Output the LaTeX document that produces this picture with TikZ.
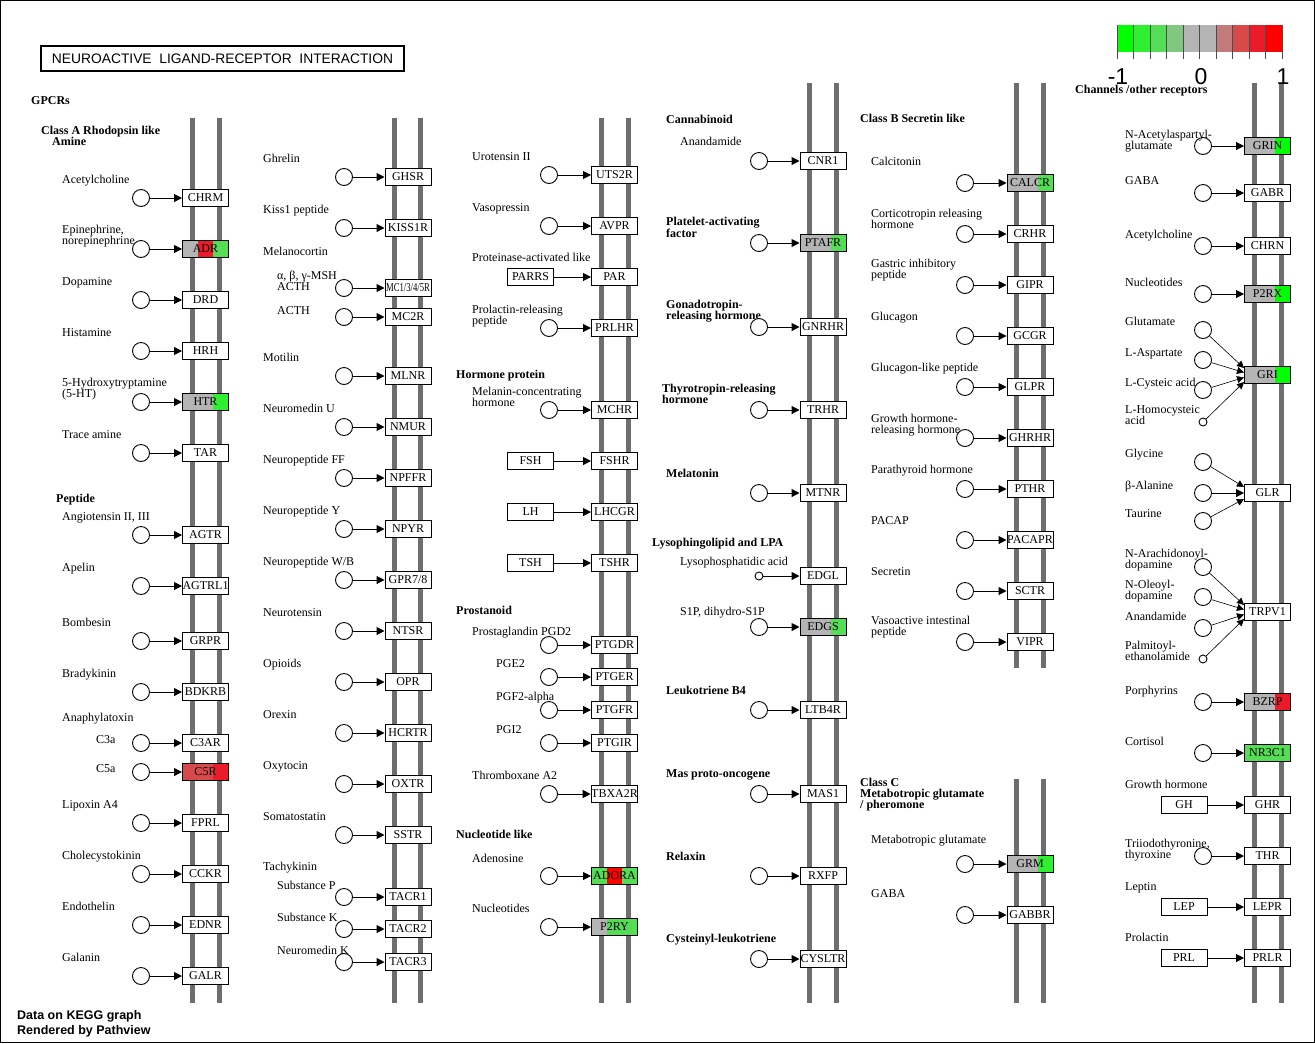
\documentclass[tikz,border=0pt]{standalone}
\usepackage{fontspec}
\setmainfont{Liberation Serif}
\newfontfamily\sansf{Liberation Sans}
\usepackage{graphicx}
\usetikzlibrary{arrows.meta,calc}
\definecolor{gry}{HTML}{B4B4B4}
\definecolor{gA}{HTML}{00FF00}
\definecolor{gB}{HTML}{30EE30}
\definecolor{gC}{HTML}{55DD55}
\definecolor{gD}{HTML}{80C880}
\definecolor{rD}{HTML}{C27A7A}
\definecolor{rC}{HTML}{D84A4A}
\definecolor{rB}{HTML}{EA1C2A}
\definecolor{rA}{HTML}{FF0000}
\definecolor{memc}{HTML}{6E6E6E}
\newcommand\fs{\fontsize{12bp}{11bp}\selectfont}
\newcommand\twol[2]{\vtop{\hbox{#1}\hbox{#2}}}
\newcommand\threel[3]{\vtop{\hbox{#1}\hbox{#2}\hbox{#3}}}
\tikzset{
 memline/.style={line width=5bp, draw=memc},
 rfill/.style={fill=white},
 rbox/.style={draw, rfill, line width=1bp, minimum width=46bp, minimum height=17bp, inner sep=0pt, font=\fs},
 lc/.style={circle, draw, fill=white, line width=0.9bp, minimum size=17bp, inner sep=0pt},
 sc/.style={circle, draw, fill=white, line width=0.9bp, minimum size=8bp, inner sep=0pt},
 arr/.style={-{Triangle[length=8bp,width=8bp]}, line width=1bp},
 tarr/.style={-{Triangle[length=7bp,width=7bp]}, line width=0.6bp},
 lab/.style={anchor=base west, inner sep=0pt, font=\fs},
 head/.style={anchor=base west, inner sep=0pt, font=\fs\bfseries},
 colored/.style={rfill/.style={}},
}
\newcommand\tfill[5]{%
 \fill[#3] ({#1-23},{#2-8.5}) rectangle ({#1-23+46/3},{#2+8.5});
 \fill[#4] ({#1-23+46/3},{#2-8.5}) rectangle ({#1+23-46/3},{#2+8.5});
 \fill[#5] ({#1+23-46/3},{#2-8.5}) rectangle ({#1+23},{#2+8.5});}
\newcommand\ent[8]{%
 \node[lc] (c#1) at (#2,#4) {};
 \node[rbox] (r#1) at (#3,#4) {#5};
 \draw[arr] (c#1) -- (r#1);
 \node[lab] (t#1) at (#6,#7) {#8};}
\newcommand\ents[8]{%
 \node[sc] (c#1) at (#2,#4) {};
 \node[rbox] (r#1) at (#3,#4) {#5};
 \draw[arr] (c#1) -- (r#1);
 \node[lab] (t#1) at (#6,#7) {#8};}
\newcommand\entc[5]{%
 \node[lc] (c#1) at (#2,#4) {};
 \node[rbox] (r#1) at (#3,#4) {#5};
 \draw[arr] (c#1) -- (r#1);}
\newcommand\entb[9]{%
 \node[rbox] (l#1) at (#2,#4) {#5};
 \node[rbox] (r#1) at (#3,#4) {#6};
 \draw[arr] (l#1) -- (r#1);
 \node[lab] (t#1) at (#7,#8) {#9};}
\newcommand\entbc[6]{%
 \node[rbox] (l#1) at (#2,#4) {#5};
 \node[rbox] (r#1) at (#3,#4) {#6};
 \draw[arr] (l#1) -- (r#1);}
\begin{document}
\begin{tikzpicture}[x=1bp,y=-1bp]
\useasboundingbox (0,0) rectangle (1315,1043);
\draw[line width=1bp] (0.5,0.5) rectangle (1314.5,1042.5);
% membranes
\foreach \x in {192,219,394.5,420.5,601.5,628.5} \draw[memline] (\x,118) -- (\x,1003);
\foreach \x in {809.5,836.5,1254,1281} \draw[memline] (\x,83) -- (\x,1003);
\foreach \x in {1016.5,1043.5} {\draw[memline] (\x,83) -- (\x,668); \draw[memline] (\x,779) -- (\x,1003);}
% title
\node[draw, line width=2.5bp, minimum width=363bp, minimum height=25bp, inner sep=0pt] (title) at (222.5,58.5)
 {\resizebox{341bp}{!}{\sansf\fontsize{12.5bp}{12bp}\selectfont NEUROACTIVE\ \ LIGAND-RECEPTOR\ \ INTERACTION}};
% legend
\foreach \c [count=\i from 0] in {gA,gB,gC,gD,gry,gry,rD,rC,rB,rA}
 \fill[\c] ({1117+16.5*\i},25) rectangle ({1133.5+16.5*\i},52);
\foreach \i in {0,...,10} \draw[line width=0.8bp, black!70] ({1117+16.5*\i},25) -- ({1117+16.5*\i},59);
\node[anchor=base, inner sep=0pt, font=\sansf\fontsize{23bp}{23bp}\selectfont] (lgm) at (1118,84) {-1};
\node[anchor=base, inner sep=0pt, font=\sansf\fontsize{23bp}{23bp}\selectfont] (lgz) at (1201,84) {0};
\node[anchor=base, inner sep=0pt, font=\sansf\fontsize{23bp}{23bp}\selectfont] (lgp) at (1283,84) {1};
% headers
\node[head] (hgpcr) at (31,104) {GPCRs};
\node[head] (hcla) at (41,134) {Class A Rhodopsin like};
\node[head] (hamine) at (52,145) {Amine};
% column 1
\ent{chrm}{141}{205.5}{198}{CHRM}{62}{183}{Acetylcholine}
\begin{scope}[colored]
\tfill{205.5}{249}{gry}{rB}{gC}
\ent{adr}{141}{205.5}{249}{ADR}{62}{233}{\twol{Epinephrine,}{norepinephrine}}
\end{scope}
\ent{drd}{141}{205.5}{300}{DRD}{62}{285}{Dopamine}
\ent{hrh}{141}{205.5}{351}{HRH}{62}{336}{Histamine}
\begin{scope}[colored]
\tfill{205.5}{402}{gry}{gry}{gB}
\ent{htr}{141}{205.5}{402}{HTR}{62}{386}{\twol{5-Hydroxytryptamine}{(5-HT)}}
\end{scope}
\ent{tar}{141}{205.5}{453}{TAR}{62}{438}{Trace amine}
\node[head] (hpep) at (56,502) {Peptide};
\ent{agtr}{141}{205.5}{535}{AGTR}{62}{520}{Angiotensin II, III}
\ent{agtrl}{141}{205.5}{586}{AGTRL1}{62}{571}{Apelin}
\ent{grpr}{141}{205.5}{641}{GRPR}{62}{626}{Bombesin}
\ent{bdkrb}{141}{205.5}{692}{BDKRB}{62}{677}{Bradykinin}
\node[lab] (tanaph) at (62,721) {Anaphylatoxin};
\ent{ctar}{141}{205.5}{743}{C3AR}{96}{743}{C3a}
\begin{scope}[colored]
\tfill{205.5}{772}{rC}{rC}{rB}
\ent{cfr}{141}{205.5}{772}{C5R}{96}{772}{C5a}
\end{scope}
\ent{fprl}{141}{205.5}{823}{FPRL}{62}{808}{Lipoxin A4}
\ent{cckr}{141}{205.5}{874}{CCKR}{62}{859}{Cholecystokinin}
\ent{ednr}{141}{205.5}{925}{EDNR}{62}{910}{Endothelin}
\ent{galr}{141}{205.5}{976}{GALR}{62}{961}{Galanin}
% column 2
\ent{ghsr}{344}{408}{177}{GHSR}{263}{162}{Ghrelin}
\ent{kiss}{344}{408}{228}{KISS1R}{263}{213}{Kiss1 peptide}
\node[lab] (tmelano) at (263,255) {Melanocortin};
\ent{mcr}{344}{408}{288}{\scalebox{0.72}[1]{MC1/3/4/5R}}{277}{279}{\twol{α, β, γ-MSH}{ACTH}}
\ent{mctr}{344}{408}{317}{MC2R}{277}{314}{ACTH}
\ent{mlnr}{344}{408}{376}{MLNR}{263}{361}{Motilin}
\ent{nmur}{344}{408}{427}{NMUR}{263}{412}{Neuromedin U}
\ent{npffr}{344}{408}{478}{NPFFR}{263}{463}{Neuropeptide FF}
\ent{npyr}{344}{408}{529}{NPYR}{263}{514}{Neuropeptide Y}
\ent{gpr}{344}{408}{580}{GPR7/8}{263}{565}{Neuropeptide W/B}
\ent{ntsr}{344}{408}{631}{NTSR}{263}{616}{Neurotensin}
\ent{opr}{344}{408}{682}{OPR}{263}{667}{Opioids}
\ent{hcrtr}{344}{408}{733}{HCRTR}{263}{718}{Orexin}
\ent{oxtr}{344}{408}{784}{OXTR}{263}{769}{Oxytocin}
\ent{sstr}{344}{408}{835}{SSTR}{263}{820}{Somatostatin}
\node[lab] (ttachy) at (263,870) {Tachykinin};
\ent{tacra}{344}{408}{897}{TACR1}{277}{889}{Substance P}
\ent{tacrb}{344}{408}{929}{TACR2}{277}{921}{Substance K}
\ent{tacrc}{344}{408}{962}{TACR3}{277}{954}{Neuromedin K}
% column 3
\ent{uts}{549}{614.5}{175}{UTS2R}{472}{160}{Urotensin II}
\ent{avpr}{549}{614.5}{226}{AVPR}{472}{211}{Vasopressin}
\entb{par}{530.5}{614.5}{277}{PARRS}{PAR}{472}{261}{Proteinase-activated like}
\ent{prlhr}{549}{614.5}{328}{PRLHR}{472}{313}{\twol{Prolactin-releasing}{peptide}}
\node[head] (hhorm) at (456,378) {Hormone protein};
\ent{mchr}{549}{614.5}{410}{MCHR}{472}{395}{\twol{Melanin-concentrating}{hormone}}
\entbc{fsh}{530.5}{614.5}{461}{FSH}{FSHR}
\entbc{lh}{530.5}{614.5}{512}{LH}{LHCGR}
\entbc{tsh}{530.5}{614.5}{563}{TSH}{TSHR}
\node[head] (hpros) at (456,614) {Prostanoid};
\ent{ptgdr}{549}{614.5}{645}{PTGDR}{472}{635}{Prostaglandin PGD2}
\ent{ptger}{549}{614.5}{677}{PTGER}{496}{667}{PGE2}
\ent{ptgfr}{549}{614.5}{710}{PTGFR}{496}{700}{PGF2-alpha}
\ent{ptgir}{549}{614.5}{743}{PTGIR}{496}{733}{PGI2}
\ent{tbx}{549}{614.5}{794}{TBXA2R}{472}{779}{Thromboxane A2}
\node[head] (hnuc) at (456,838) {Nucleotide like};
\begin{scope}[colored]
\tfill{614.5}{876}{gC}{rA}{gC}
\ent{adora}{549}{614.5}{876}{ADORA}{472}{862}{Adenosine}
\tfill{614.5}{927}{gry}{gC}{gC}
\ent{ptry}{549}{614.5}{927}{P2RY}{472}{912}{Nucleotides}
\end{scope}
% column 4
\node[head] (hcann) at (666,123) {Cannabinoid};
\ent{cnr}{759}{823}{161}{CNR1}{680}{145}{Anandamide}
\node[head] (hpaf) at (666,225) {\twol{Platelet-activating}{factor}};
\begin{scope}[colored]
\tfill{823}{243}{gry}{gry}{gC}
\entc{ptafr}{759}{823}{243}{PTAFR}
\end{scope}
\node[head] (hgnrh) at (666,308) {\twol{Gonadotropin-}{releasing hormone}};
\entc{gnrhr}{759}{823}{327}{GNRHR}
\node[head] (htrh) at (662,392) {\twol{Thyrotropin-releasing}{hormone}};
\entc{trhr}{759}{823}{410}{TRHR}
\node[head] (hmel) at (666,477) {Melatonin};
\entc{mtnr}{759}{823}{493}{MTNR}
\node[head] (hlyso) at (652,546) {Lysophingolipid and LPA};
\ents{edgl}{759}{823}{576}{EDGL}{680}{565}{Lysophosphatidic acid}
\begin{scope}[colored]
\tfill{823}{627}{gry}{gry}{gC}
\ent{edgs}{759}{823}{627}{EDGS}{680}{615}{S1P, dihydro-S1P}
\end{scope}
\node[head] (hltb) at (666,694) {Leukotriene B4};
\entc{ltb}{759}{823}{710}{LTB4R}
\node[head] (hmas) at (666,777) {Mas proto-oncogene};
\entc{mas}{759}{823}{794}{MAS1}
\node[head] (hrlx) at (666,860) {Relaxin};
\entc{rxfp}{759}{823}{876}{RXFP}
\node[head] (hcys) at (666,942) {Cysteinyl-leukotriene};
\entc{cyslt}{759}{823}{959}{CYSLTR}
% column 5
\node[head] (hclb) at (860,122) {Class B Secretin like};
\begin{scope}[colored]
\tfill{1030}{183}{gry}{gry}{gC}
\ent{calcr}{965}{1030}{183}{CALCR}{871}{165}{Calcitonin}
\end{scope}
\ent{crhr}{965}{1030}{234}{CRHR}{871}{217}{\twol{Corticotropin releasing}{hormone}}
\ent{gipr}{965}{1030}{285}{GIPR}{871}{267}{\twol{Gastric inhibitory}{peptide}}
\ent{gcgr}{965}{1030}{336}{GCGR}{871}{320}{Glucagon}
\ent{glpr}{965}{1030}{387}{GLPR}{871}{371}{Glucagon-like peptide}
\ent{ghrhr}{965}{1030}{438}{GHRHR}{871}{422}{\twol{Growth hormone-}{releasing hormone}}
\ent{pthr}{965}{1030}{489}{PTHR}{871}{473}{Parathyroid hormone}
\ent{pacapr}{965}{1030}{540}{PACAPR}{871}{524}{PACAP}
\ent{sctr}{965}{1030}{591}{SCTR}{871}{575}{Secretin}
\ent{vipr}{965}{1030}{642}{VIPR}{871}{624}{\twol{Vasoactive intestinal}{peptide}}
\node[head] (hclc) at (860,786) {\threel{Class C}{Metabotropic glutamate}{/ pheromone}};
\begin{scope}[colored]
\tfill{1030}{864}{gry}{gry}{gB}
\ent{grm}{965}{1030}{864}{GRM}{871}{843}{Metabotropic glutamate}
\end{scope}
\ent{gabbr}{965}{1030}{915}{GABBR}{871}{897}{GABA}
% column 6
\node[head] (hchan) at (1075,93) {Channels /other receptors};
\begin{scope}[colored]
\tfill{1267.5}{146}{gry}{gry}{gA}
\ent{grin}{1203}{1267.5}{146}{GRIN}{1125}{138}{\twol{N-Acetylaspartyl-}{glutamate}}
\end{scope}
\ent{gabr}{1203}{1267.5}{193}{GABR}{1125}{184}{GABA}
\ent{chrn}{1203}{1267.5}{246}{CHRN}{1125}{238}{Acetylcholine}
\begin{scope}[colored]
\tfill{1267.5}{294}{gry}{gry}{gA}
\ent{ptrx}{1203}{1267.5}{294}{P2RX}{1125}{286}{Nucleotides}
\tfill{1267.5}{375}{gry}{gry}{gA}
\node[rbox] (rgri) at (1267.5,375) {GRI};
\end{scope}
\node[lc] (cglu) at (1203,330) {}; \node[lab] (tglu) at (1125,325) {Glutamate};
\node[lc] (casp) at (1203,360) {}; \node[lab] (tasp) at (1125,356) {L-Aspartate};
\node[lc] (clcys) at (1203,390) {}; \node[lab] (tlcys) at (1125,386) {L-Cysteic acid};
\node[sc] (chcy) at (1203,422) {}; \node[lab] (thcy) at (1125,413) {\twol{L-Homocysteic}{acid}};
\draw[tarr] (cglu) -- ($(rgri.west)+(0,-7)$);
\draw[tarr] (casp) -- ($(rgri.west)+(0,-2.5)$);
\draw[tarr] (clcys) -- ($(rgri.west)+(0,2.5)$);
\draw[tarr] (chcy) -- ($(rgri.west)+(0,7)$);
\node[rbox] (rglr) at (1267.5,493) {GLR};
\node[lc] (cgly) at (1203,462) {}; \node[lab] (tgly) at (1125,457) {Glycine};
\node[lc] (cbal) at (1203,493) {}; \node[lab] (tbal) at (1125,489) {β-Alanine};
\node[lc] (ctau) at (1203,521) {}; \node[lab] (ttau) at (1125,517) {Taurine};
\draw[tarr] (cgly) -- ($(rglr.west)+(0,-6)$);
\draw[arr] (cbal) -- (rglr);
\draw[tarr] (ctau) -- ($(rglr.west)+(0,6)$);
\node[rbox] (rtrpv) at (1267.5,612) {TRPV1};
\node[lc] (cnad) at (1203,567) {}; \node[lab] (tnad) at (1125,557) {\twol{N-Arachidonoyl-}{dopamine}};
\node[lc] (cnod) at (1203,597) {}; \node[lab] (tnod) at (1125,588) {\twol{N-Oleoyl-}{dopamine}};
\node[lc] (cana) at (1203,628) {}; \node[lab] (tana) at (1125,620) {Anandamide};
\node[sc] (cpea) at (1203,659) {}; \node[lab] (tpea) at (1125,649) {\twol{Palmitoyl-}{ethanolamide}};
\draw[tarr] (cnad) -- ($(rtrpv.west)+(0,-7)$);
\draw[tarr] (cnod) -- ($(rtrpv.west)+(0,-2.5)$);
\draw[tarr] (cana) -- ($(rtrpv.west)+(0,2.5)$);
\draw[tarr] (cpea) -- ($(rtrpv.west)+(0,7)$);
\begin{scope}[colored]
\tfill{1267.5}{702}{gry}{gry}{rB}
\ent{bzrp}{1203}{1267.5}{702}{BZRP}{1125}{694}{Porphyrins}
\tfill{1267.5}{753}{gC}{gC}{gC}
\ent{nrc}{1203}{1267.5}{753}{NR3C1}{1125}{745}{Cortisol}
\end{scope}
\entb{ghr}{1184}{1267.5}{805}{GH}{GHR}{1125}{788}{Growth hormone}
\ent{thr}{1203}{1267.5}{856}{THR}{1125}{847}{\twol{Triiodothyronine,}{thyroxine}}
\entb{lepr}{1184}{1267.5}{907}{LEP}{LEPR}{1125}{890}{Leptin}
\entb{prlr}{1184}{1267.5}{958}{PRL}{PRLR}{1125}{941}{Prolactin}
% footer
\node[anchor=base west, inner sep=0pt, font=\sansf\bfseries\fontsize{12.5bp}{15bp}\selectfont] (foot) at (17,1019)
 {\twol{Data on KEGG graph}{Rendered by Pathview}};
\end{tikzpicture}
\end{document}
